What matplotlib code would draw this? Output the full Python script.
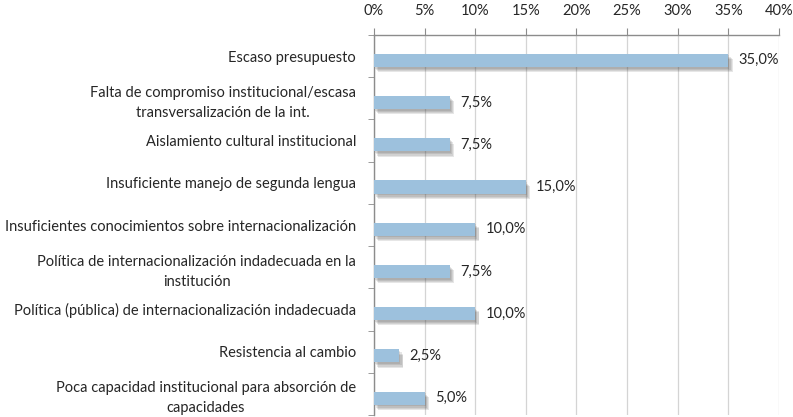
import matplotlib
matplotlib.use('Agg')
import matplotlib.pyplot as plt
import matplotlib.patheffects as pe
from matplotlib.ticker import FixedLocator

# Data
categories = [
    'Escaso presupuesto',
    'Falta de compromiso institucional/escasa\ntransversalización de la int.',
    'Aislamiento cultural institucional',
    'Insuficiente manejo de segunda lengua',
    'Insuficientes conocimientos sobre internacionalización',
    'Política de internacionalización indadecuada en la\ninstitución',
    'Política (pública) de internacionalización indadecuada',
    'Resistencia al cambio',
    'Poca capacidad institucional para absorción de\ncapacidades',
]
values = [35.0, 7.5, 7.5, 15.0, 10.0, 7.5, 10.0, 2.5, 5.0]
xticks = [0, 5, 10, 15, 20, 25, 30, 35, 40]

plt.rcParams['font.family'] = ['Lato', 'DejaVu Sans']
text_col = '#262626'
axis_col = '#8c8c8c'

fig = plt.figure(figsize=(7.93, 4.17), dpi=100)
ax = fig.add_axes([0.4716, 0.0048, 0.5107, 0.9112])

ypos = list(range(len(categories)))
bars = ax.barh([y + 0.1 for y in ypos], values, height=0.31, color='#9dc1dd',
               zorder=3)
# soft drop shadow, built from a few faint offset copies
shadow = [pe.SimplePatchShadow(offset=(dx, -dy), shadow_rgbFace='#444444', alpha=0.13)
          for dx, dy in [(0.8, 1.2), (1.6, 2.2), (2.4, 3.0), (3.0, 3.8)]]
for b in bars:
    b.set_path_effects(shadow + [pe.Normal()])

for y, v in zip(ypos, values):
    ax.text(v + 1.0, y + 0.1, f'{v:.1f}'.replace('.', ',') + '%', va='center', ha='left',
            fontsize=10.5, color=text_col, zorder=4)

ax.set_xlim(0, 40)
ax.set_ylim(len(categories) - 0.5, -0.5)

ax.xaxis.tick_top()
ax.set_xticks(xticks)
ax.set_xticklabels([f'{t}%' for t in xticks], fontsize=10.5, color=text_col)
ax.tick_params(axis='x', direction='out', length=5, color=axis_col, pad=7)
ax.grid(axis='x', color='#d4d4d4', linewidth=0.9, zorder=0)

ax.set_yticks(ypos)
ax.set_yticklabels(categories, fontsize=10.5, color=text_col, multialignment='center',
                   linespacing=1.55)
ax.tick_params(axis='y', which='major', length=0, pad=13)
ax.yaxis.set_minor_locator(FixedLocator([y + 0.5 for y in range(-1, len(categories))]))
ax.tick_params(axis='y', which='minor', direction='out', length=4, color=axis_col)

for s in ['right', 'bottom']:
    ax.spines[s].set_visible(False)
for s in ['top', 'left']:
    ax.spines[s].set_color(axis_col)
    ax.spines[s].set_linewidth(1.0)

fig.savefig('out.png', dpi=100)
